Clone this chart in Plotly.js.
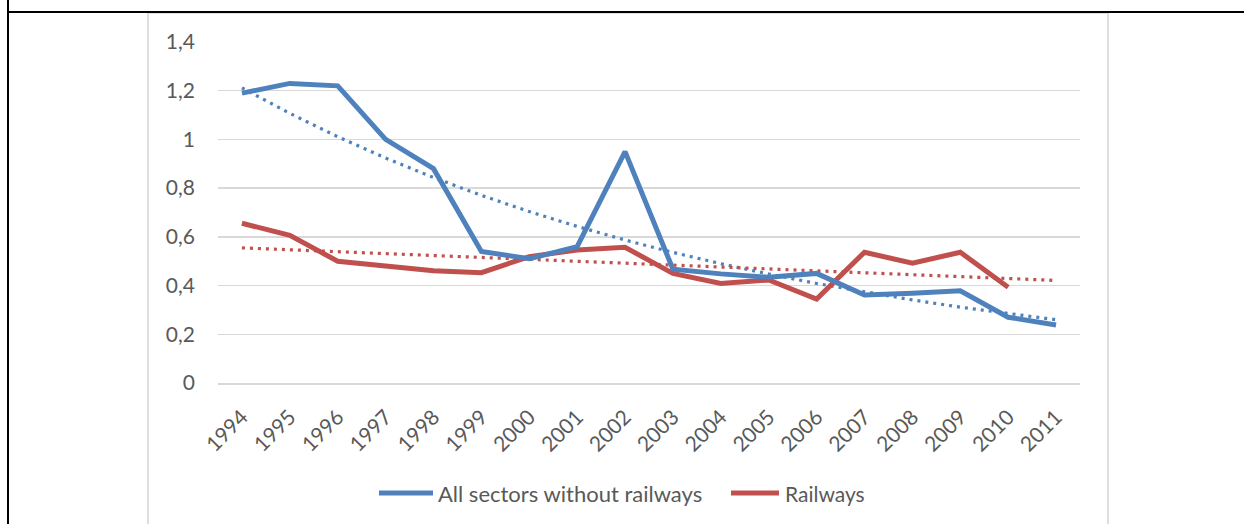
<!DOCTYPE html>
<html><head><meta charset="utf-8">
<script src="https://cdn.plot.ly/plotly-3.0.1.min.js"></script>
<style>html,body{margin:0;padding:0;background:#fff}#chart{width:1244px;height:524px}</style>
</head><body><div id="chart"></div>
<script>
const years = ['1994','1995','1996','1997','1998','1999','2000','2001','2002','2003','2004','2005','2006','2007','2008','2009','2010','2011'];
const allSectors = [1.19,1.23,1.22,1.00,0.88,0.54,0.51,0.56,0.95,0.467,0.448,0.434,0.45,0.361,0.368,0.379,0.27,0.238];
const railways = [0.656,0.606,0.50,0.478,0.461,0.453,0.519,0.546,0.557,0.45,0.409,0.423,0.345,0.537,0.492,0.537,0.393,null];
const yTickVals = [0,0.2,0.4,0.6,0.8,1,1.2,1.4];
const yTickText = ['0','0,2','0,4','0,6','0,8','1','1,2','1,4'];
const seriesNames = ['All sectors without railways','Railways'];

const BLUE = '#4f81bd', RED = '#c0504d', TXT = '#595959', GRID = '#d9d9d9';
const FONT = 'Lato, "Open Sans", sans-serif';

// least squares trends computed from the data (Excel-style trendlines)
function fitPairs(vals){const p=[];vals.forEach((v,i)=>{if(v!==null)p.push([i,v]);});return p;}
function linFit(pairs){const n=pairs.length;let sx=0,sy=0,sxx=0,sxy=0;pairs.forEach(([x,y])=>{sx+=x;sy+=y;sxx+=x*x;sxy+=x*y;});const b=(n*sxy-sx*sy)/(n*sxx-sx*sx);const a=(sy-b*sx)/n;return [a,b];}
const [ea,eb] = linFit(fitPairs(allSectors).map(([x,y])=>[x,Math.log(y)]));
const blueTrend = years.map((_,i)=>Math.exp(ea+eb*i));
const [la,lb] = linFit(fitPairs(railways));
const redTrend = years.map((_,i)=>la+lb*i);

const L=218, R=1080, T=42, B=383, W=1244, H=524;
const px = x=>(x-L)/(R-L), py = y=>(B-y)/(B-T);

const traces = [
  {x:years,y:blueTrend,type:'scatter',mode:'lines',name:'trend1',line:{color:BLUE,width:3.2,dash:'3px,5px'},showlegend:false,hoverinfo:'skip'},
  {x:years,y:redTrend,type:'scatter',mode:'lines',name:'trend2',line:{color:RED,width:3.2,dash:'3px,5px'},showlegend:false,hoverinfo:'skip'},
  {x:years,y:railways,type:'scatter',mode:'lines',name:seriesNames[1],line:{color:RED,width:5},showlegend:false,hoverinfo:'skip'},
  {x:years,y:allSectors,type:'scatter',mode:'lines',name:seriesNames[0],line:{color:BLUE,width:5},showlegend:false,hoverinfo:'skip'}
];

const shapes = [
  {type:'rect',xref:'paper',yref:'paper',x0:px(148),x1:px(1108),y0:py(540),y1:py(13),line:{color:GRID,width:1.7},layer:'below'},
  {type:'line',xref:'paper',yref:'paper',x0:px(8),x1:px(1250),y0:py(12),y1:py(12),line:{color:'#000',width:2}},
  {type:'line',xref:'paper',yref:'paper',x0:px(8),x1:px(8),y0:py(-5),y1:py(530),line:{color:'#000',width:2}},
  {type:'line',xref:'paper',yref:'paper',x0:px(379),x1:px(433),y0:py(493),y1:py(493),line:{color:BLUE,width:5}},
  {type:'line',xref:'paper',yref:'paper',x0:px(731),x1:px(779),y0:py(493),y1:py(493),line:{color:RED,width:5}}
];
const annotations = [
  {xref:'paper',yref:'paper',x:px(436),y:py(493),xanchor:'left',yanchor:'middle',text:seriesNames[0],showarrow:false,font:{family:FONT,size:22,color:TXT}},
  {xref:'paper',yref:'paper',x:px(783),y:py(493),xanchor:'left',yanchor:'middle',text:seriesNames[1],showarrow:false,font:{family:FONT,size:21,color:TXT}}
];

const layout = {
  width:W,height:H,
  margin:{l:L,r:W-R,t:T,b:H-B,pad:0},
  paper_bgcolor:'#fff',plot_bgcolor:'#fff',
  font:{family:FONT,size:21,color:TXT},
  showlegend:false,
  xaxis:{type:'category',range:[-0.5,17.5],tickangle:-45,showgrid:false,zeroline:false,showline:true,linecolor:GRID,linewidth:1.5,ticks:'',ticklabelstandoff:12,tickfont:{family:FONT,size:21,color:TXT},fixedrange:true},
  yaxis:{range:[0,1.4],tickvals:yTickVals,ticktext:yTickText,showgrid:true,gridcolor:GRID,gridwidth:1.5,zeroline:false,showline:false,ticks:'',ticklabelstandoff:22,tickfont:{family:FONT,size:21,color:TXT},fixedrange:true},
  shapes:shapes,annotations:annotations
};
Plotly.newPlot('chart',traces,layout,{displayModeBar:false,staticPlot:true});
</script></body></html>
